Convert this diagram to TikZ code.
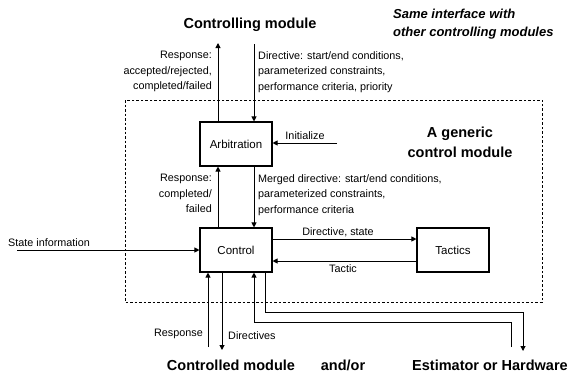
\documentclass[tikz,border=0pt]{standalone}
\usepackage{fontspec}
\setmainfont{Liberation Sans}
\usetikzlibrary{arrows.meta,positioning}

\begin{document}
\begin{tikzpicture}[
  x=1bp, y=-1bp,
  blk/.style={rectangle, draw=black, line width=1.1bp, minimum width=72bp, minimum height=44bp, inner sep=0pt, font=\fontsize{11.5bp}{13bp}\selectfont},
  lbl/.style={inner sep=0pt, font=\fontsize{10.8bp}{15.5bp}\selectfont},
  head/.style={inner sep=0pt, font=\fontsize{14.5bp}{20bp}\selectfont\bfseries},
  note/.style={inner sep=0pt, align=left, font=\fontsize{13bp}{18bp}\selectfont\bfseries\itshape},
  flow/.style={-{Triangle[length=5bp,width=5bp]}, line width=1bp},
  frame/.style={dash pattern=on 2.5bp off 2bp, line width=1bp}
]
\useasboundingbox (0,0) rectangle (571,373);

% Generic control module frame
\draw[frame] (125,100) rectangle (542,302);
\node[head, align=center] (generic) at (460,142) {A generic\\control module};

% Blocks
\node[blk] (arb) at (236,144) {Arbitration};
\node[blk] (ctl) at (236,250) {Control};
\node[blk] (tac) at (453,250) {Tactics};

% Controlling module
\node[head] (master) at (250,25) {Controlling module};
\node[note, anchor=west] (same) at (393,24) {Same interface with\\other controlling modules};
\coordinate (up1) at (218,43);
\coordinate (dn1) at (254,44);
\draw[flow] (arb.north -| up1) -- (up1);
\draw[flow] (dn1) -- (arb.north -| dn1);
\node[lbl, anchor=north east, align=right] (rsp1) at (212,51) {Response:\\accepted/rejected,\\completed/failed};
\node[lbl, anchor=north west, align=left] (dir1) at (258,51) {Directive: start/end conditions,\\parameterized constraints,\\performance criteria, priority};

% Initialize
\coordinate (init) at (337,143);
\draw[flow] (init) -- (init -| arb.east);
\node[lbl] (initlbl) at (305,136) {Initialize};

% Arbitration <-> Control
\draw[flow] (ctl.north -| up1) -- (arb.south -| up1);
\draw[flow] (arb.south -| dn1) -- (ctl.north -| dn1);
\node[lbl, anchor=north east, align=right] (rsp2) at (212,174) {Response:\\completed/\\failed};
\node[lbl, anchor=north west, align=left] (dir2) at (258,174) {Merged directive: start/end conditions,\\parameterized constraints,\\performance criteria};

% State information
\coordinate (state) at (17,250);
\draw[flow] (state) -- (ctl.west);
\node[lbl, anchor=west] (statelbl) at (8,243) {State information};

% Control <-> Tactics
\draw[flow] ([yshift=11bp]ctl.east) -- ([yshift=11bp]tac.west);
\draw[flow] ([yshift=-11bp]tac.west) -- ([yshift=-11bp]ctl.east);
\node[lbl] (dirstate) at (338,232) {Directive, state};
\node[lbl] (tactic) at (343,269) {Tactic};

% Controlled module
\coordinate (rsp) at (208,347);
\coordinate (dirs) at (222,350);
\draw[flow] (rsp) -- (rsp |- ctl.south);
\draw[flow] (ctl.south -| dirs) -- (dirs);
\node[lbl, anchor=east] (rsp3) at (203,334) {Response};
\node[lbl, anchor=west] (dirslbl) at (228,336) {Directives};

% Estimator or Hardware
\coordinate (hwoutc) at (523,312);
\coordinate (hwout) at (523,351);
\coordinate (hwinc) at (511,322);
\coordinate (hwin) at (511,347);
\draw[flow] ([xshift=29bp]ctl.south) |- (hwoutc) -- (hwout);
\draw[flow] (hwin) -- (hwinc) -| (ctl.south -| dn1);

% Bottom titles
\node[head] (slave) at (231,365) {Controlled module};
\node[head] (andor) at (343,365) {and/or};
\node[head] (hw) at (490,365) {Estimator or Hardware};

\end{tikzpicture}
\end{document}
